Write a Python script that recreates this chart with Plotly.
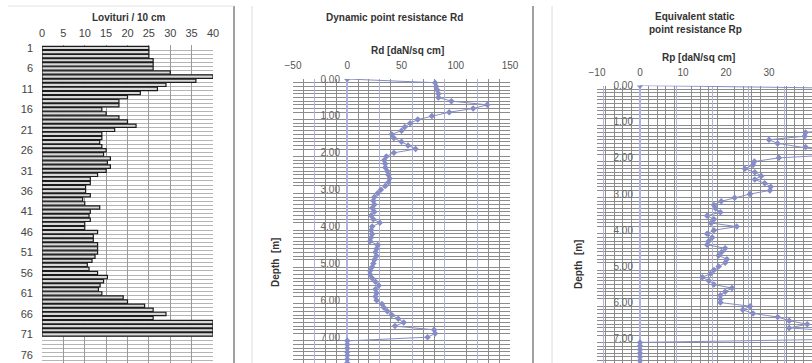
import plotly.graph_objects as go

W, H = 812, 363

# ---------------- data ----------------
rows = list(range(1, 77))
blows = [25, 25, 25, 26, 26, 26, 30, 40, 36, 29,
         27, 23, 20, 18, 18, 14, 15, 18, 20, 22,
         17, 14, 14, 13.5, 14, 15, 14.4, 16, 15.3, 16,
         15, 13, 11.3, 11.3, 10.2, 10.2, 11.3, 9.5, 10, 13.5,
         11.3, 11, 11.3, 10, 10, 13, 12, 12, 13, 13,
         13, 12.4, 11.7, 10.6, 11, 13, 15.3, 14.4, 13.6, 13.2,
         14, 19, 20, 24, 26, 29, 26, 40, 40, 40,
         40, None, None, None, None, None]
row_ticks = [1, 6, 11, 16, 21, 26, 31, 36, 41, 46, 51, 56, 61, 66, 71, 76]

depth = [0.0, 0.1, 0.2, 0.3, 0.4, 0.5, 0.6, 0.7, 0.8, 0.9,
         1.0, 1.1, 1.2, 1.3, 1.4, 1.5, 1.6, 1.7, 1.8, 1.9,
         2.0, 2.1, 2.2, 2.3, 2.4, 2.5, 2.6, 2.7, 2.8, 2.9,
         3.0, 3.1, 3.2, 3.3, 3.4, 3.5, 3.6, 3.7, 3.8, 3.9,
         4.0, 4.1, 4.2, 4.3, 4.4, 4.5, 4.6, 4.7, 4.8, 4.9,
         5.0, 5.1, 5.2, 5.3, 5.4, 5.5, 5.6, 5.7, 5.8, 5.9,
         6.0, 6.1, 6.2, 6.3, 6.4, 6.5, 6.6, 6.7, 6.8, 6.9,
         7.0, 7.1, 7.2, 7.3, 7.4, 7.5, 7.6, 7.7]

rd = [0, 81, 82, 83, 84, 84, 96, 129, 116, 94,
      78, 65, 58, 53, 50, 41, 43, 50, 56, 63,
      43, 36, 34, 35, 35, 37, 38, 39, 38, 35,
      31, 28, 25, 24, 25, 23, 25, 22, 24, 30,
      23, 22, 23, 22, 21, 28, 27, 26, 27, 25,
      24, 23, 21, 21, 23, 26, 29, 26, 27, 26,
      27, 32, 34, 37, 41, 47, 52, 44, 80, 81,
      74, 0, 0, 0, 0, 0, 0, 0]

rp = [0, 63, 64, 65, 66, 66, 75, 100, 90, 73,
      60, 50, 45, 38.5, 38.3, 30, 32, 38.5, 43, 48,
      32.3, 26.6, 26.3, 24.4, 26.7, 28.2, 26.7, 29, 30.4, 30.2,
      25.6, 22, 18.9, 17.2, 17.6, 18.7, 15.6, 17.2, 16.5, 22.5,
      17.2, 15.6, 16.8, 16, 15.6, 19.8, 19, 18.3, 20.2, 19.8,
      18.3, 17.2, 16.4, 14.5, 16, 17.2, 21.4, 19.8, 18.7, 18.7,
      18.7, 25.6, 23.9, 26.3, 32, 34.7, 38.9, 34.7, 58, 59,
      54, 0, 0, 0, 0, 0, 0, 0]

# ---------------- helpers ----------------
def px(x):
    return x / W

def py(y):
    return 1 - y / H

FONT = "Liberation Sans, Arial, sans-serif"
GRID = "#8c8c8c"
LAV = "#aeb2dd"
PT = "#868cc6"

fig = go.Figure()

# Panel 1: blows per 10 cm
fig.add_trace(go.Bar(
    x=blows, y=rows, orientation="h", width=0.82,
    marker=dict(color="#d8d8d8", line=dict(color="#1c1c1c", width=1.2)),
    xaxis="x", yaxis="y", showlegend=False, hoverinfo="skip"))

# Panel 2: Rd
fig.add_trace(go.Scatter(
    x=rd, y=depth, mode="lines+markers",
    line=dict(color=PT, width=1),
    marker=dict(symbol="diamond", size=5, color=PT),
    xaxis="x2", yaxis="y2", showlegend=False))

# Panel 3: Rp
fig.add_trace(go.Scatter(
    x=rp, y=depth, mode="lines+markers",
    line=dict(color=PT, width=1),
    marker=dict(symbol="diamond", size=5, color=PT),
    xaxis="x3", yaxis="y3", showlegend=False))

# empty traces so the lavender overlay grids get drawn
fig.add_trace(go.Scatter(x=[], y=[], xaxis="x4", yaxis="y2", showlegend=False))
fig.add_trace(go.Scatter(x=[], y=[], xaxis="x5", yaxis="y3", showlegend=False))

tickfont = dict(family=FONT, size=10, color="#555")

fig.update_layout(
    width=W, height=H,
    margin=dict(l=0, r=0, t=0, b=0, autoexpand=False),
    paper_bgcolor="white", plot_bgcolor="white",
    font=dict(family=FONT),
    bargap=0.1,
    # ---- panel 1 ----
    xaxis=dict(domain=[px(42), px(213)], range=[0, 40], side="top", anchor="y",
               dtick=5, tick0=0, showgrid=True, gridcolor="#9a9a9a", gridwidth=1,
               zeroline=False, showline=False, ticks="", automargin=False,
               ticklabelstandoff=5,
               tickfont=dict(family=FONT, size=11, color="#444")),
    yaxis=dict(domain=[0, py(45)], range=[78.0, 0.27], anchor="x",
               tickmode="array", tickvals=row_ticks, showgrid=False,
               minor=dict(dtick=1, tick0=0.5, showgrid=True, gridcolor="#b5b5b5", gridwidth=1),
               zeroline=False, showline=False, ticks="", automargin=False,
               ticklabelstandoff=8,
               tickfont=dict(family=FONT, size=11, color="#444")),
    # ---- panel 2 ----
    xaxis2=dict(domain=[px(293), px(510)], range=[-50, 150], side="top", anchor="y2",
                dtick=50, tick0=0, showgrid=False, automargin=False,
                minor=dict(dtick=10, tick0=0, showgrid=True, gridcolor=GRID, gridwidth=1),
                zeroline=True, zerolinecolor=LAV, zerolinewidth=1.5,
                showline=False, ticks="", ticklabelstandoff=7, tickfont=tickfont),
    xaxis4=dict(domain=[px(293), px(510)], range=[-50, 150], overlaying="x2", anchor="y2",
                side="top", dtick=30, tick0=0, showgrid=True, gridcolor=LAV, gridwidth=1.2,
                automargin=False,
                showticklabels=False, zeroline=False, showline=False, ticks=""),
    yaxis2=dict(domain=[0, py(79)], range=[7.70, 0], anchor="free", position=px(347),
                dtick=1, tick0=0, tickformat=".2f", showgrid=False, automargin=False,
                minor=dict(dtick=0.1, tick0=0, showgrid=True, gridcolor=GRID, gridwidth=1),
                zeroline=False, showline=False, ticks="", ticklabelstandoff=7,
                tickfont=dict(family=FONT, size=10, color="#666")),
    # ---- panel 3 ----
    xaxis3=dict(domain=[px(597), 1.0], range=[-10, 40], side="top", anchor="y3",
                dtick=10, tick0=0, showgrid=False, automargin=False,
                minor=dict(dtick=2, tick0=0, showgrid=True, gridcolor=GRID, gridwidth=1),
                zeroline=True, zerolinecolor=LAV, zerolinewidth=1.5,
                showline=False, ticks="", ticklabelstandoff=7, tickfont=tickfont),
    xaxis5=dict(domain=[px(597), 1.0], range=[-10, 40], overlaying="x3", anchor="y3",
                side="top", dtick=8.4, tick0=0, showgrid=True, gridcolor=LAV, gridwidth=1.2,
                automargin=False,
                showticklabels=False, zeroline=False, showline=False, ticks=""),
    yaxis3=dict(domain=[0, py(85.5)], range=[7.67, 0], anchor="free", position=px(640),
                dtick=1, tick0=0, tickformat=".2f", showgrid=False, automargin=False,
                minor=dict(dtick=0.1, tick0=0, showgrid=True, gridcolor=GRID, gridwidth=1),
                zeroline=False, showline=False, ticks="", ticklabelstandoff=7,
                tickfont=dict(family=FONT, size=10, color="#666")),
)

def ann(text, x, y, size=10, bold=True, angle=0, color="#333"):
    fig.add_annotation(text=f"<b>{text}</b>" if bold else text,
                       x=px(x), y=py(y), xref="paper", yref="paper",
                       showarrow=False, textangle=angle,
                       font=dict(family=FONT, size=size, color=color),
                       xanchor="center", yanchor="middle")

ann("Lovituri / 10 cm", 128, 17)
ann("Dynamic point resistance Rd", 394, 17)
ann("Rd [daN/sq cm]", 407, 50)
ann("Equivalent static", 695, 16)
ann("point resistance Rp", 695, 29)
ann("Rp [daN/sq cm]", 698, 57)
ann("Depth  [m]", 275, 263, angle=-90)
ann("Depth  [m]", 578, 265, angle=-90)

# panel frame separators
for x0, col, w in [(234, "#a0a0a0", 2), (252, "#dcdcdc", 1), (533, "#a0a0a0", 2), (552, "#dcdcdc", 1)]:
    fig.add_shape(type="line", xref="paper", yref="paper",
                  x0=px(x0), x1=px(x0), y0=0, y1=py(6), line=dict(color=col, width=w))
fig.add_shape(type="line", xref="paper", yref="paper", x0=px(8), x1=px(234), y0=py(6), y1=py(6),
              line=dict(color="#e2e2e2", width=1))

fig.write_html("out.html", config={"displayModeBar": False},
               post_script="document.body.style.margin='0';document.body.style.overflow='hidden';")
